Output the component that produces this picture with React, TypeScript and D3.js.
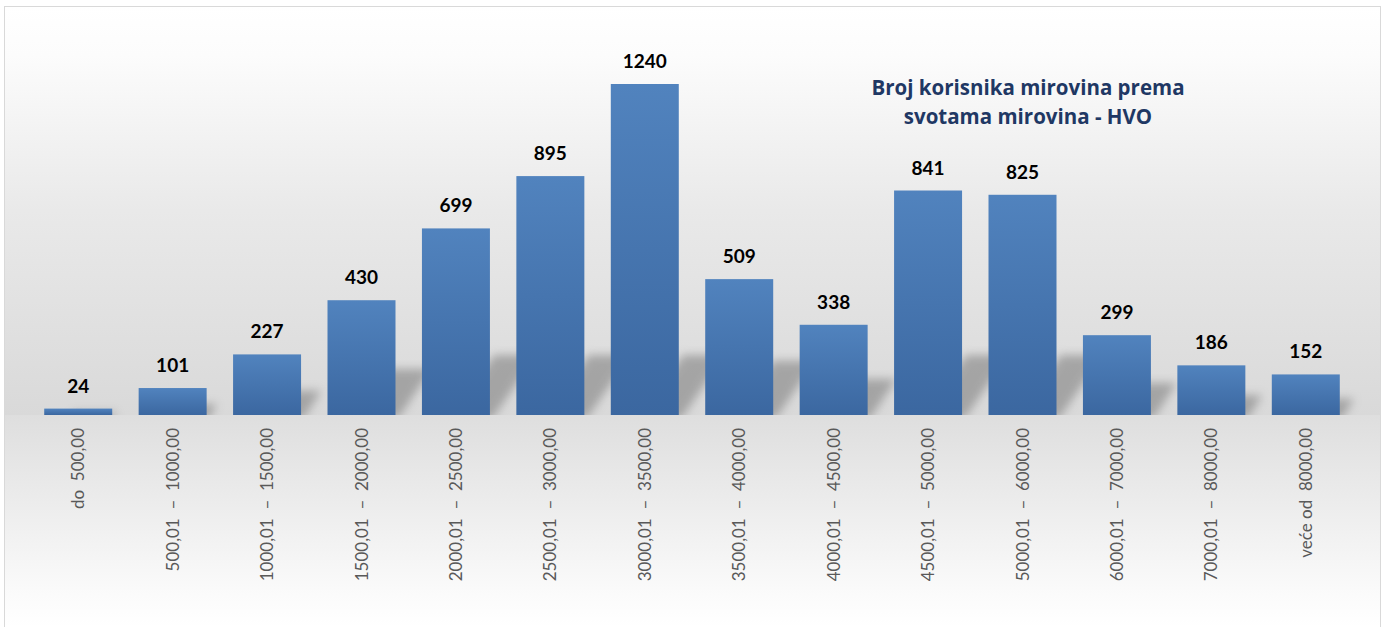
import React from "react";
import * as d3 from "d3";

const categories = [
  "do  500,00",
  "500,01  –  1000,00",
  "1000,01  –  1500,00",
  "1500,01  –  2000,00",
  "2000,01  –  2500,00",
  "2500,01  –  3000,00",
  "3000,01  –  3500,00",
  "3500,01  –  4000,00",
  "4000,01  –  4500,00",
  "4500,01  –  5000,00",
  "5000,01  –  6000,00",
  "6000,01  –  7000,00",
  "7000,01  –  8000,00",
  "veće od  8000,00",
];
const values = [24, 101, 227, 430, 699, 895, 1240, 509, 338, 841, 825, 299, 186, 152];
const titleLines = ["Broj korisnika mirovina prema", "svotama mirovina - HVO"];

const W = 1385;
const H = 627;
const baseY = 415;
const topY = 84;

function App() {
  const x = d3
    .scaleBand<string>()
    .domain(categories)
    .range([31, 1353])
    .paddingInner(0.28)
    .paddingOuter(0.14);

  const y = d3
    .scaleLinear()
    .domain([0, d3.max(values) as number])
    .range([baseY, topY]);

  const font = "Lato, 'Open Sans', sans-serif";

  return (
    <svg
      width={W}
      height={H}
      style={{ position: "absolute", left: 0, top: 0, display: "block" }}
    >
      <defs>
        <linearGradient id="bgUp" x1="0" y1="0" x2="0" y2="1">
          <stop offset="0" stopColor="#ffffff" />
          <stop offset="0.12" stopColor="#fcfcfc" />
          <stop offset="0.5" stopColor="#e9e9e9" />
          <stop offset="1" stopColor="#d9d9d9" />
        </linearGradient>
        <linearGradient id="bgDown" x1="0" y1="0" x2="0" y2="1">
          <stop offset="0" stopColor="#dedede" />
          <stop offset="0.85" stopColor="#fbfbfb" />
          <stop offset="1" stopColor="#ffffff" />
        </linearGradient>
        <linearGradient id="barFill" x1="0" y1="0" x2="0" y2="1">
          <stop offset="0" stopColor="#5183be" />
          <stop offset="1" stopColor="#3b67a0" />
        </linearGradient>
        <filter id="blur" x="-50%" y="-50%" width="200%" height="200%">
          <feGaussianBlur stdDeviation="5" />
        </filter>
        <clipPath id="plotClip">
          <rect x={5} y={7} width={1375} height={baseY - 7} />
        </clipPath>
      </defs>

      <rect x={4.5} y={6.5} width={1376} height={640} fill="#ffffff" stroke="#d9d9d9" />
      <rect x={5} y={7} width={1375} height={baseY - 7} fill="url(#bgUp)" />
      <rect x={5} y={baseY} width={1375} height={H - baseY} fill="url(#bgDown)" />

      {/* floor shadows, cast back and to the right */}
      <g clipPath="url(#plotClip)">
        <g filter="url(#blur)" opacity={0.5}>
          {values.map((v, i) => {
            const x0 = x(categories[i]) as number;
            const bw = x.bandwidth();
            const h = Math.min((baseY - y(v)) * 0.4, 60);
            const s = 0.75;
            const pts = [
              [x0 + bw * 0.4, baseY + 4],
              [x0 + bw + 2, baseY + 4],
              [x0 + bw + 2 + h * s, baseY - h],
              [x0 + bw * 0.4 + h * s, baseY - h],
            ];
            return (
              <polygon key={i} points={pts.map((p) => p.join(",")).join(" ")} fill="#6e6e6e" />
            );
          })}
        </g>
      </g>

      {values.map((v, i) => (
        <rect
          key={categories[i]}
          x={x(categories[i])}
          y={y(v)}
          width={x.bandwidth()}
          height={baseY - y(v)}
          fill="url(#barFill)"
        />
      ))}

      {values.map((v, i) => (
        <text
          key={"v" + i}
          x={(x(categories[i]) as number) + x.bandwidth() / 2}
          y={y(v) - 16}
          textAnchor="middle"
          fontFamily={font}
          fontWeight="bold"
          fontSize={19}
          fill="#000000"
        >
          {v}
        </text>
      ))}

      {categories.map((c) => {
        const cx = (x(c) as number) + x.bandwidth() / 2;
        return (
          <text
            key={"c" + c}
            transform={`translate(${cx + 6},428) rotate(-90)`}
            textAnchor="end"
            fontFamily={font}
            fontSize={17}
            fill="#595959"
            style={{ whiteSpace: "pre" }}
          >
            {c}
          </text>
        );
      })}

      {titleLines.map((t, i) => (
        <text
          key={"t" + i}
          x={1028}
          y={95 + i * 29}
          textAnchor="middle"
          fontFamily="'Open Sans', Lato, sans-serif"
          fontWeight="bold"
          fontSize={20.5}
          fill="#1f3864"
        >
          {t}
        </text>
      ))}
    </svg>
  );
}

export default App;
